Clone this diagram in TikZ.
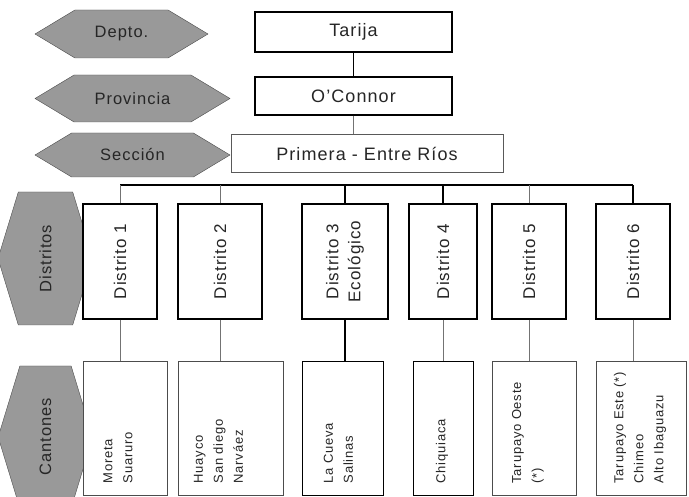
\documentclass[tikz,border=0pt]{standalone}
\usepackage{fontspec}
\usepackage{graphicx}
\setmainfont{Liberation Sans}[LetterSpace=6]
\usetikzlibrary{shapes.symbols}

\begin{document}
\begin{tikzpicture}[x=1pt, y=-1pt,
  nivel/.style={shape=signal, signal to=west and east, signal pointer angle=62, draw=black!70, fill=black!40, inner sep=0pt, font=\fontsize{16.5}{20}\selectfont, text=black!85},
  nivelv/.style={nivel, signal to=north and south, signal pointer angle=146, rotate=90},
  caja/.style={draw, line width=1.2pt, fill=white, inner sep=0pt, font=\fontsize{18}{22}\selectfont, text=black!85},
  distrito/.style={caja, minimum height=115pt, font=\fontsize{17}{22}\selectfont},
  canton/.style={caja, draw=black!70, line width=1pt, minimum height=133pt},
  lista/.style={rotate=90, anchor=west, align=left, inner sep=0pt, font=\fontsize{13}{20}\selectfont, text=black!85},
  linea/.style={draw=black!55, line width=1pt},
  lineaf/.style={draw=black, line width=1.2pt}]
  \clip (0,0) rectangle (689,497);

  % Niveles
  \node[nivel, minimum width=173pt, minimum height=48pt] (depto) at (121.5,34) {Depto.};
  \node[nivel, minimum width=195pt, minimum height=47pt] (provincia) at (132.5,98.5) {Provincia};
  \node[nivel, minimum width=195pt, minimum height=44pt] (seccion) at (132.5,155) {Sección};
  \node[nivelv, minimum width=133pt, minimum height=75pt] (distritos) at (45.5,258.5) {Distritos};
  \node[nivelv, minimum width=142pt, minimum height=75pt] (cantones) at (45.5,437) {Cantones};

  % Departamento, provincia y sección
  \node[caja, minimum width=197pt, minimum height=40pt] (tarija) at (353.5,32) {Tarija};
  \node[caja, minimum width=197pt, minimum height=38pt] (oconnor) at (353.5,96) {O'Connor};
  \node[caja, draw=black!65, line width=1pt, minimum width=272pt, minimum height=38pt] (primera) at (367,154) {Primera - Entre Ríos};

  % Distritos
  \node[distrito, minimum width=74pt] (d1) at (120,261.5) {\rotatebox{90}{Distrito 1}};
  \node[distrito, minimum width=84pt] (d2) at (220,261.5) {\rotatebox{90}{Distrito 2}};
  \node[distrito, minimum width=86pt] (d3) at (345,261.5) {\rotatebox{90}{\begin{tabular}{@{}c@{}}Distrito 3\\Ecológico\end{tabular}}};
  \node[distrito, minimum width=68pt] (d4) at (443,261.5) {\rotatebox{90}{Distrito 4}};
  \node[distrito, minimum width=74pt] (d5) at (529,261.5) {\rotatebox{90}{Distrito 5}};
  \node[distrito, minimum width=74pt] (d6) at (633,261.5) {\rotatebox{90}{Distrito 6}};

  % Cantones
  \node[canton, minimum width=84pt] (c1) at (125,428.5) {};
  \node[canton, minimum width=105pt] (c2) at (230.5,428.5) {};
  \node[canton, draw=black, minimum width=81pt] (c3) at (342.5,428.5) {};
  \node[canton, draw=black, minimum width=60pt] (c4) at (443,428.5) {};
  \node[canton, minimum width=84pt] (c5) at (534,428.5) {};
  \node[canton, minimum width=90pt] (c6) at (641,428.5) {};
  \node[lista] (l1) at ([xshift=-7pt, yshift=12pt]c1.south) {Moreta\\Suaruro};
  \node[lista] (l2) at ([xshift=-12pt, yshift=12pt]c2.south) {Huayco\\San diego\\Narváez};
  \node[lista] (l3) at ([xshift=-4pt, yshift=12pt]c3.south) {La Cueva\\Salinas};
  \node[lista] (l4) at ([xshift=-1pt, yshift=12pt]c4.south) {Chiquiaca};
  \node[lista] (l5) at ([xshift=-6pt, yshift=12pt]c5.south) {Tarupayo Oeste\\(*)};
  \node[lista] (l6) at ([xshift=-1pt, yshift=12pt]c6.south) {Tarupayo Este (*)\\Chimeo\\Alto Ibaguazu};

  % Lineas
  \coordinate (bus) at (0,185);
  \draw[lineaf] (tarija) -- (oconnor);
  \draw[linea] (oconnor) -- (oconnor |- primera.north);
  \draw[lineaf] (d1 |- bus) -- (d6 |- bus);
  \draw[linea] (d1.north) -- (d1 |- bus);
  \draw[linea] (d2.north) -- (d2 |- bus);
  \draw[lineaf] (d3.north) -- (d3 |- bus);
  \draw[lineaf] (d4.north) -- (d4 |- bus);
  \draw[linea] (d5.north) -- (d5 |- bus);
  \draw[lineaf] (d6.north) -- (d6 |- bus);
  \draw[linea] (d1.south) -- (d1.south |- c1.north);
  \draw[linea] (d2.south) -- (d2.south |- c2.north);
  \draw[lineaf] (d3.south) -- (d3.south |- c3.north);
  \draw[linea] (d4.south) -- (d4.south |- c4.north);
  \draw[linea] (d5.south) -- (d5.south |- c5.north);
  \draw[linea] (d6.south) -- (d6.south |- c6.north);
\end{tikzpicture}
\end{document}
